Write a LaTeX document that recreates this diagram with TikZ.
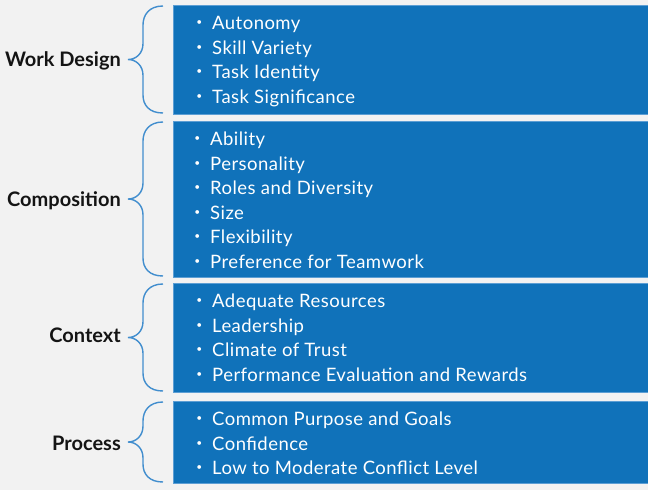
\documentclass[tikz,border=0pt]{standalone}
\usepackage{fontspec}
\setmainfont{Lato}
\usepackage{xcolor}
\usetikzlibrary{positioning,calc}

\definecolor{bgColor}{RGB}{242,242,242}
\definecolor{boxColor}{RGB}{16,114,186}
\definecolor{boxEdge}{RGB}{92,158,212}
\definecolor{braceColor}{RGB}{66,142,206}
\definecolor{lblColor}{RGB}{20,20,20}
\newcommand{\itembullet}{\llap{\raisebox{.2em}{\scalebox{.55}{\textbullet}}\hspace{10pt}}}

\begin{document}
\begin{tikzpicture}[x=1pt,y=-1pt,
  box/.style={rectangle,draw=boxEdge,line width=0.8pt,fill=boxColor,minimum width=475pt,inner sep=0pt,outer sep=0pt},
  item/.style={anchor=base west,text=white,inner sep=0pt,font=\fontsize{18.5}{22}\selectfont\addfontfeatures{LetterSpace=2.5}},
  lbl/.style={anchor=east,inner sep=0pt,text=lblColor,font=\bfseries\fontsize{20}{22}\selectfont},
  brace/.style={draw=braceColor,line width=1.4pt}]
\fill[bgColor] (0,0) rectangle (648,490);
\useasboundingbox (0,0) rectangle (648,490);
% boxes
\node[box,minimum height=109pt,anchor=north west] (wd) at (173,5) {};
\node[box,minimum height=156pt,below=7pt of wd] (comp) {};
\node[box,minimum height=109pt,below=6pt of comp] (ctx) {};
\node[box,minimum height=82pt,below=9pt of ctx] (proc) {};
% items
\foreach \t [count=\i] in {Autonomy,Skill Variety,Task Identity,Task Significance}
  \node[item] (wd\i) at ([xshift=39pt,yshift=-24.5pt*\i]wd.north west) {\itembullet\t};
\foreach \t [count=\i] in {Ability,Personality,Roles and Diversity,Size,Flexibility,Preference for Teamwork}
  \node[item] (comp\i) at ([xshift=37pt,yshift=-24.5pt*\i]comp.north west) {\itembullet\t};
\foreach \t [count=\i] in {Adequate Resources,Leadership,Climate of Trust,Performance Evaluation and Rewards}
  \node[item] (ctx\i) at ([xshift=39pt,yshift=-24.5pt*\i]ctx.north west) {\itembullet\t};
\foreach \t [count=\i] in {Common Purpose and Goals,Confidence,Low to Moderate Conflict Level}
  \node[item] (proc\i) at ([xshift=39pt,yshift=-24.5pt*\i]proc.north west) {\itembullet\t};
% labels and braces
\foreach \b/\t/\dy in {wd/Work Design/-1.5,comp/Composition/-2,ctx/Context/2,proc/Process/-1}
  \node[lbl] (lbl-\b) at ([xshift=-52pt,yshift=\dy pt]\b.west) {\t};
\foreach \b in {wd,comp,ctx,proc}
  \draw[brace] ([xshift=-10pt,yshift=-1pt]\b.north west) .. controls +(-14pt,0pt) and +(0pt,10pt) .. ++(-20pt,-19pt)
    -- ($(\b.west)+(-30pt,16pt)$) .. controls +(0pt,-10pt) and +(8pt,0pt) .. ($(\b.west)+(-45pt,0pt)$)
    .. controls +(8pt,0pt) and +(0pt,10pt) .. ($(\b.west)+(-30pt,-16pt)$)
    -- ($(\b.south west)+(-30pt,19pt)$) .. controls +(0pt,-10pt) and +(-14pt,0pt) .. ([xshift=-10pt,yshift=1pt]\b.south west);
\end{tikzpicture}
\end{document}
